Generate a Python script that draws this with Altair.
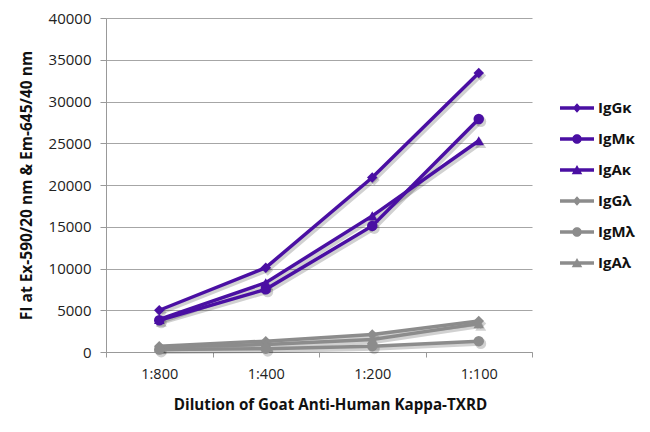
import altair as alt
import pandas as pd

dilutions = ["1:800", "1:400", "1:200", "1:100"]
series = ["IgGκ", "IgMκ", "IgAκ", "IgGλ", "IgMλ", "IgAλ"]
igg_k = [5000, 10100, 20900, 33400]
igm_k = [3800, 7500, 15100, 27900]
iga_k = [3900, 8300, 16300, 25300]
igg_l = [700, 1300, 2100, 3700]
igm_l = [300, 400, 700, 1300]
iga_l = [600, 900, 1500, 3400]

values = [igg_k, igm_k, iga_k, igg_l, igm_l, iga_l]
purple = "#4a0fa3"
grey = "#8c8c8c"
colors = [purple, purple, purple, grey, grey, grey]
shapes = ["diamond", "circle", "triangle-up", "diamond", "circle", "triangle-up"]

stub = "M-1,-0.11H1V0.11H-1Z"
leg_diamond = stub + "M0,-0.28L0.25,0L0,0.28L-0.25,0Z"
leg_circle = stub + "M-0.28,0A0.28,0.28 0 1,1 0.28,0A0.28,0.28 0 1,1 -0.28,0Z"
leg_triangle = stub + "M0,-0.29L0.31,0.25H-0.31Z"
leg_shapes = [leg_diamond, leg_circle, leg_triangle] * 2

rows = []
for s, vals in zip(series, values):
    for d, v in zip(dilutions, vals):
        rows.append({"series": s, "dilution": d, "fi": v})
df = pd.DataFrame(rows)

FONT = "Open Sans"

x = alt.X(
    "dilution:N",
    sort=dilutions,
    scale=alt.Scale(paddingInner=0, paddingOuter=0),
    axis=alt.Axis(
        title="Dilution of Goat Anti-Human Kappa-TXRD",
        labelAngle=0,
        tickBand="extent",
        tickSize=5,
        labelPadding=10,
        titlePadding=17,
        titleX=224,
        titleAnchor="middle",
        titleFontWeight="bold",
        titleFontSize=15.2,
        labelFontSize=14.5,
        domainColor="#999999",
        tickColor="#999999",
        labelColor="#222222",
        titleColor="#111111",
    ),
)
y = alt.Y(
    "fi:Q",
    scale=alt.Scale(domain=[0, 40000]),
    axis=alt.Axis(
        title="FI at Ex-590/20 nm & Em-645/40 nm",
        values=list(range(0, 40001, 5000)),
        tickSize=6,
        labelPadding=9,
        titlePadding=14,
        titleFontWeight="bold",
        titleFontSize=15.5,
        labelFontSize=15,
        domainColor="#999999",
        tickColor="#999999",
        gridColor="#a6a6a6",
        gridWidth=1.2,
        labelColor="#222222",
        titleColor="#111111",
        format="d",
    ),
)

color_scale = alt.Scale(domain=series, range=colors)

shadow_lines = alt.Chart(df).mark_line(
    strokeWidth=4, color="#000000", opacity=0.18, xOffset=2, yOffset=2.5
).encode(x=x, y=y, detail="series:N")

shadow_points = alt.Chart(df).mark_point(
    filled=True, size=120, color="#000000", opacity=0.18, xOffset=2, yOffset=2.5
).encode(
    x=x, y=y,
    shape=alt.Shape("series:N", scale=alt.Scale(domain=series, range=shapes), legend=None),
)

lines = alt.Chart(df).mark_line(strokeWidth=3.5).encode(
    x=x, y=y,
    color=alt.Color("series:N", scale=color_scale, legend=None),
    detail="series:N",
)

points = alt.Chart(df).mark_point(filled=True, size=110, opacity=1).encode(
    x=x, y=y,
    color=alt.Color("series:N", scale=color_scale, legend=None),
    shape=alt.Shape("series:N", scale=alt.Scale(domain=series, range=shapes), legend=None),
)

leg = alt.Legend(
    title=None, orient="none", legendX=453, legendY=72,
    symbolSize=1156, symbolOpacity=1, labelFontSize=15, labelFontWeight="bold",
    labelFont=FONT, labelColor="#111111", labelOffset=3, rowPadding=5,
)

legend_layer = alt.Chart(df).mark_point(filled=True, size=0).encode(
    x=x, y=y,
    color=alt.Color("series:N", scale=color_scale, legend=leg),
    shape=alt.Shape("series:N", scale=alt.Scale(domain=series, range=leg_shapes), legend=leg),
)

chart = (
    alt.layer(shadow_lines, shadow_points, lines, points, legend_layer)
    .resolve_scale(shape="independent", color="independent")
    .properties(
        width=426,
        height=334,
        autosize=alt.AutoSizeParams(type="none"),
        padding={"left": 98, "top": 10, "right": 110, "bottom": 72},
        background="white",
    )
    .configure_view(stroke=None)
    .configure_axis(labelFont=FONT, titleFont=FONT)
    .configure_axisX(grid=False)
)

chart.save("out.html", embed_options={"renderer": "svg", "actions": False})
